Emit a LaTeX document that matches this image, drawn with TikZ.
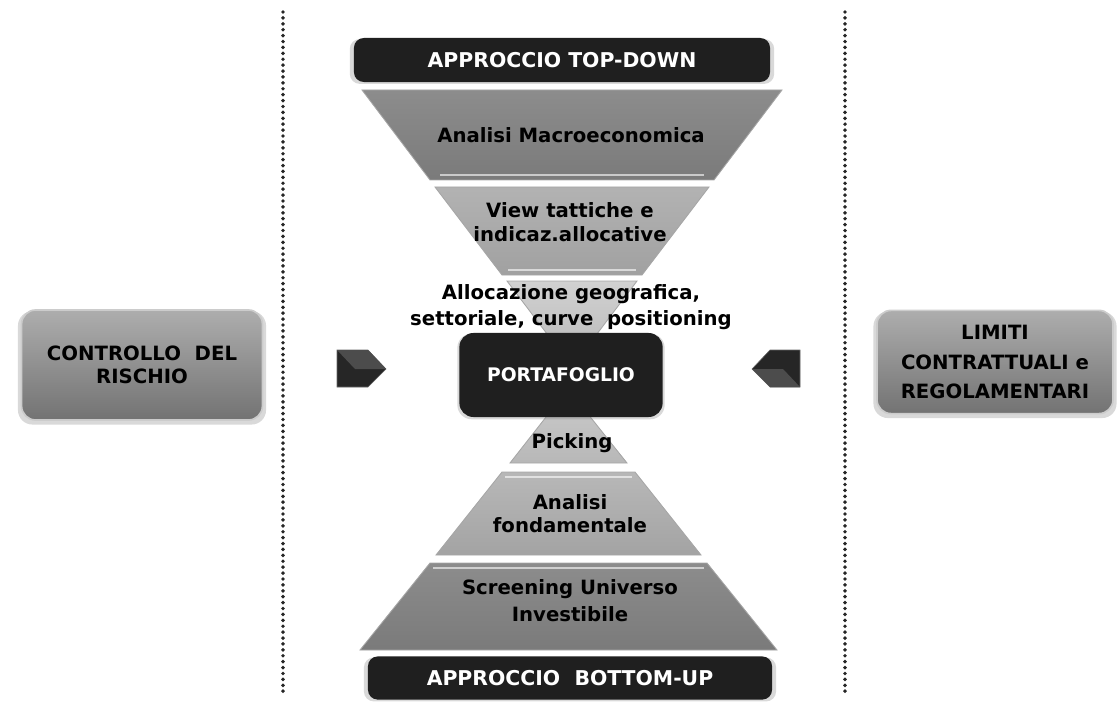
\documentclass[tikz,border=0pt]{standalone}
\usepackage{fontspec}
\setmainfont{DejaVu Sans}
\usepackage{tikz}
\usetikzlibrary{positioning, shadows}
\tikzstyle{darkbar} = [rounded corners=7pt, fill=black!88, text=white, inner sep=0pt,
  drop shadow={opacity=0.3, shadow xshift=0pt, shadow yshift=-1pt, shadow scale=1.02}]
\tikzstyle{greybox} = [rounded corners=10pt, top color=black!32, bottom color=black!55,
  draw=black!20, line width=1.2pt, inner sep=0pt,
  drop shadow={opacity=0.3, shadow xshift=0pt, shadow yshift=-2pt, shadow scale=1.03}]
\tikzstyle{sepline} = [line width=2.8pt, black!85, dash pattern=on 0pt off 4.2pt, line cap=round]
\tikzstyle{band} = [draw=black!35, line width=0.6pt]
\tikzstyle{pointer} = [fill=black!85, draw=black!60, line width=0.4pt]

\begin{document}
\begin{tikzpicture}[x=0.025cm, y=-0.025cm,
  every node/.style={font=\bfseries\fontsize{14}{17}\selectfont, align=center}]
  \useasboundingbox (0,0) rectangle (1118,702);

  % Separators
  \draw[sepline] (283,12) -- (283,695);
  \draw[sepline] (845,12) -- (845,695);

  % Top-down funnel
  \draw[band, top color=black!45, bottom color=black!52] (362,90) -- (782,90) -- (714,180) -- (430,180) -- cycle;
  \draw[band, top color=black!30, bottom color=black!37] (435,187) -- (709,187) -- (642,275) -- (502,275) -- cycle;
  \draw[band, top color=black!18, bottom color=black!28] (507,281) -- (637,281) -- (572,367) -- cycle;
  \draw[white, opacity=0.6, line width=1.2pt] (440,175) -- (704,175);
  \draw[white, opacity=0.6, line width=1.2pt] (508,270) -- (636,270);

  % Bottom-up pyramid
  \draw[band, top color=black!20, bottom color=black!28] (568,389) -- (627,463) -- (510,463) -- cycle;
  \draw[band, top color=black!28, bottom color=black!36] (502,472) -- (635,472) -- (701,555) -- (436,555) -- cycle;
  \draw[band, top color=black!45, bottom color=black!52] (430,563) -- (707,563) -- (777,650) -- (360,650) -- cycle;
  \draw[white, opacity=0.6, line width=1.2pt] (505,477) -- (632,477);
  \draw[white, opacity=0.6, line width=1.2pt] (433,568) -- (704,568);

  % Approaches
  \node[darkbar, minimum width=10.4cm, minimum height=1.1cm, font=\bfseries\fontsize{14.5}{17}\selectfont] (top) at (562,60) {APPROCCIO TOP-DOWN};
  \node[darkbar, minimum width=10.1cm, minimum height=1.08cm, font=\bfseries\fontsize{14.5}{17}\selectfont] (bottom) at (570,678) {APPROCCIO\ \ BOTTOM-UP};

  % Steps
  \node (macro) at (571,135) {Analisi Macroeconomica};
  \node (view) at (570,222) {View tattiche e\\indicaz.allocative};
  \node[font=\bfseries\fontsize{14}{18}\selectfont] (alloc) at (571,307) {Allocazione geografica,\\settoriale, curve\ \ positioning};
  \node (pick) at (572,443) {Picking};
  \node[font=\bfseries\fontsize{14}{16.5}\selectfont] (fond) at (570,514) {Analisi\\fondamentale};
  \node[font=\bfseries\fontsize{14}{19}\selectfont] (screen) at (570,601) {Screening Universo\\Investibile};

  % Portfolio
  \node[darkbar, rounded corners=10pt, minimum width=5.08cm, minimum height=2.1cm,
    font=\bfseries\fontsize{13.3}{15}\selectfont] (port) at (561,375) {PORTAFOGLIO};

  % Side constraints
  \node[greybox, minimum width=6.02cm, minimum height=2.75cm,
    font=\bfseries\fontsize{14}{16.5}\selectfont] (risk) at (142,365) {CONTROLLO\ \ DEL\\RISCHIO};
  \node[greybox, minimum width=5.9cm, minimum height=2.58cm,
    font=\bfseries\fontsize{14}{21}\selectfont] (lim) at (995,362) {LIMITI\\CONTRATTUALI e\\REGOLAMENTARI};

  % Pointers
  \draw[pointer] (337,350) -- (368,350) -- (386,369) -- (368,387) -- (337,387) -- cycle;
  \fill[black!70] (337,350) -- (368,350) -- (386,369) -- (355,369) -- cycle;
  \draw[pointer] (800,350) -- (770,350) -- (752,369) -- (770,387) -- (800,387) -- cycle;
  \fill[black!70] (752,369) -- (770,387) -- (800,387) -- (783,369) -- cycle;
\end{tikzpicture}
\end{document}
